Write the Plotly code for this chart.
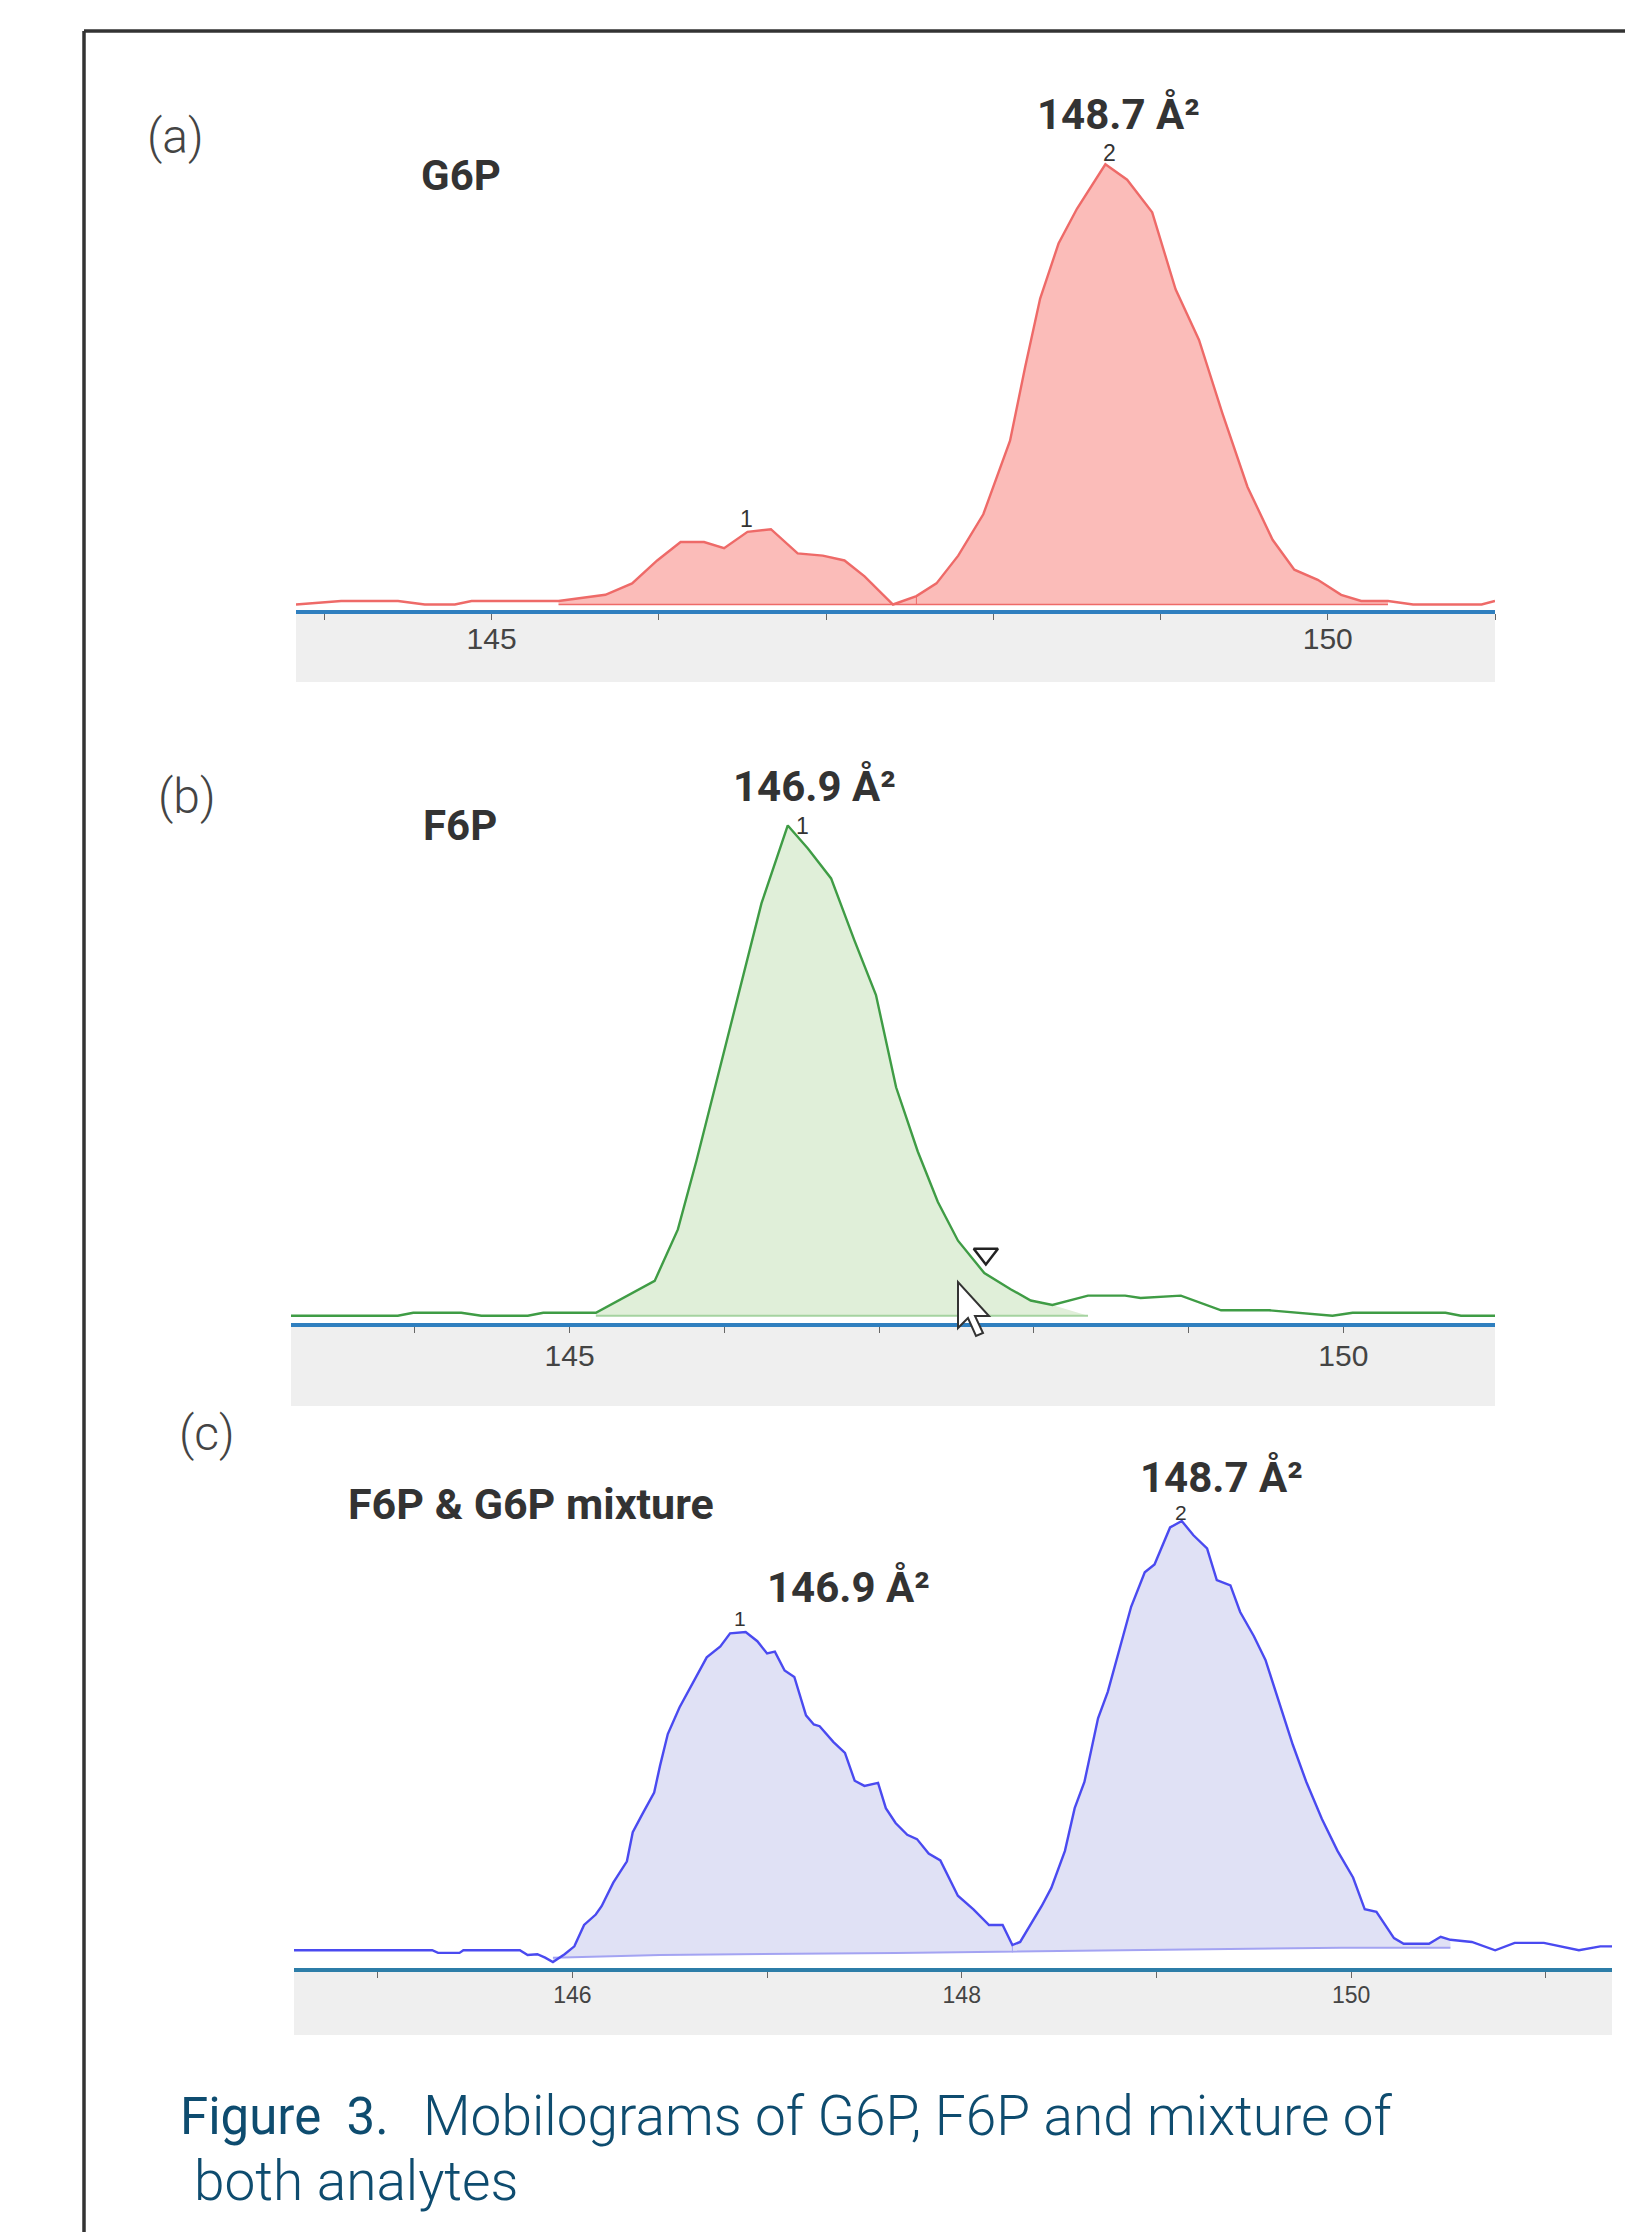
import plotly.graph_objects as go

W, H = 1625, 2232

# Panel (a) G6P
a_x = [143.83,144.10,144.44,144.60,144.78,144.88,145.40,145.68,145.84,145.99,146.13,146.27,146.39,146.53,146.67,146.83,146.98,147.11,147.23,147.40,147.54,147.66,147.79,147.94,148.10,148.19,148.28,148.39,148.50,148.67,148.80,148.95,149.09,149.23,149.37,149.52,149.67,149.80,149.94,150.08,150.20,150.36,150.51,150.92,151.00]
a_y = [0,0.8,0.8,0,0,0.8,0.8,2.2,4.8,10.0,14.2,14.2,12.8,16.5,17.1,11.6,11.1,10.0,6.4,0,1.9,4.8,11.1,20.5,37.2,53.9,69.5,82.0,89.9,100,96.5,89.1,71.6,60.1,43.4,26.7,14.7,7.9,5.6,2.2,0.8,0.8,0,0,0.8]
# Panel (b) F6P
b_x = [143.20,143.89,143.99,144.30,144.43,144.73,144.83,145.17,145.55,145.70,145.82,145.94,146.04,146.14,146.24,146.41,146.54,146.69,146.84,146.98,147.11,147.25,147.38,147.51,147.68,147.85,147.98,148.12,148.35,148.59,148.69,148.95,149.21,149.52,149.93,150.06,150.66,150.76,150.99]
b_y = [0,0,0.6,0.6,0,0,0.6,0.6,7.1,17.6,31.6,46.6,58.8,71.0,84.1,100,95.3,89.2,76.6,65.4,46.6,33.5,23.2,15.3,8.7,5.4,3.1,2.2,4.1,4.1,3.6,4.1,1.1,1.1,0,0.6,0.6,0,0]
# Panel (c) mixture
c_x = [144.57,145.28,145.31,145.42,145.44,145.73,145.77,145.82,145.86,145.90,145.96,146.01,146.06,146.12,146.15,146.21,146.28,146.31,146.36,146.42,146.45,146.49,146.55,146.60,146.65,146.69,146.76,146.81,146.89,146.95,147.00,147.04,147.09,147.14,147.20,147.24,147.27,147.34,147.40,147.45,147.50,147.57,147.61,147.66,147.72,147.77,147.83,147.89,147.98,148.06,148.14,148.21,148.26,148.30,148.41,148.46,148.53,148.58,148.63,148.70,148.75,148.81,148.87,148.94,148.99,149.07,149.13,149.19,149.26,149.31,149.38,149.43,149.50,149.56,149.64,149.70,149.77,149.85,149.93,150.01,150.07,150.13,150.22,150.27,150.40,150.46,150.51,150.62,150.74,150.84,150.99,151.17,151.28,151.34]
c_y = [1.5,1.5,0.9,0.9,1.5,1.5,0.4,0.6,-0.2,-1.2,0.6,2.4,7.3,9.7,11.6,17.0,21.9,28.6,32.8,37.7,43.8,51.1,57.2,61.4,65.7,68.7,71.2,74.2,74.5,72.4,69.6,70.0,65.7,64.2,55.4,53.3,52.9,49.3,46.8,40.4,39.2,39.9,34.1,30.7,28.0,27.0,23.7,22.1,14.0,10.9,7.3,7.3,2.7,3.4,11.6,15.8,24.3,34.1,40.1,54.7,60.8,70.6,80.3,88.2,90.0,98.5,100,96.7,93.7,86.4,85.2,79.1,73.6,68.1,57.2,48.7,40.1,31.6,24.3,18.2,10.9,10.3,4.3,3.0,3.0,4.6,3.9,3.4,1.5,3.2,3.2,1.5,2.4,2.4]
c_base_x = [145.90,146.45,147.66,148.81,149.95,150.51]
c_base_y = [-0.2,0.4,0.9,1.5,2.1,2.1]

a_ticks = [144,145,146,147,148,149,150,151]
b_ticks = [144,145,146,147,148,149,150]
c_ticks = [145,146,147,148,149,150,151]
a_labels = ["","145","","","","","150",""]
b_labels = ["","145","","","","","150"]
c_labels = ["","146","","148","","150",""]

def px(v): return v / W
def py(v): return 1 - v / H

def fill_slice(xs, ys, lo, hi):
    pts = [(x, y) for x, y in zip(xs, ys) if lo <= x <= hi]
    return [p[0] for p in pts], [p[1] for p in pts]

fig = go.Figure()

RED, RED_F = "#ee6a68", "#fbbcb9"
GRN, GRN_F = "#3f9c45", "#e0efd9"
BLU, BLU_F = "#4a4af0", "#e0e1f5"

# (a)
fx, fy = fill_slice(a_x, a_y, 145.40, 150.36)
fig.add_trace(go.Scatter(x=fx, y=fy, xaxis="x", yaxis="y", mode="lines", line=dict(width=0), fill="tozeroy", fillcolor=RED_F, hoverinfo="skip"))
fig.add_trace(go.Scatter(x=[145.40, 150.36], y=[0, 0], xaxis="x", yaxis="y", mode="lines", line=dict(color=RED, width=1.5)))
fig.add_trace(go.Scatter(x=[147.54, 147.54], y=[0, 1.9], xaxis="x", yaxis="y", mode="lines", line=dict(color=RED, width=1)))
fig.add_trace(go.Scatter(x=a_x, y=a_y, xaxis="x", yaxis="y", mode="lines", line=dict(color=RED, width=2.4)))

# (b)
fx, fy = fill_slice(b_x, b_y, 145.17, 148.12)
fx = fx + [148.35]; fy = fy + [0]
fig.add_trace(go.Scatter(x=fx, y=fy, xaxis="x2", yaxis="y2", mode="lines", line=dict(width=0), fill="tozeroy", fillcolor=GRN_F, hoverinfo="skip"))
fig.add_trace(go.Scatter(x=[145.17, 148.35], y=[0, 0], xaxis="x2", yaxis="y2", mode="lines", line=dict(color="#a5d3a0", width=2)))
fig.add_trace(go.Scatter(x=b_x, y=b_y, xaxis="x2", yaxis="y2", mode="lines", line=dict(color=GRN, width=2.4)))
fig.add_trace(go.Scatter(x=[147.69], y=[12.6], xaxis="x2", yaxis="y2", mode="markers",
                         marker=dict(symbol="triangle-down", size=21, color="white", line=dict(color="#222", width=2.5))))

# (c)
fx, fy = fill_slice(c_x, c_y, 145.90, 150.51)
fig.add_trace(go.Scatter(x=fx + c_base_x[::-1], y=fy + c_base_y[::-1], xaxis="x3", yaxis="y3", mode="lines",
                         line=dict(width=0), fill="toself", fillcolor=BLU_F, hoverinfo="skip"))
fig.add_trace(go.Scatter(x=c_base_x, y=c_base_y, xaxis="x3", yaxis="y3", mode="lines", line=dict(color="#a3a3f2", width=2)))
fig.add_trace(go.Scatter(x=[148.26, 148.26], y=[1.0, 2.7], xaxis="x3", yaxis="y3", mode="lines", line=dict(color="#a3a3f2", width=1)))
fig.add_trace(go.Scatter(x=c_x, y=c_y, xaxis="x3", yaxis="y3", mode="lines", line=dict(color=BLU, width=2.4)))

def xax(domain, rng, vals, labels, size, standoff, color):
    return dict(domain=[px(domain[0]), px(domain[1])], range=rng, tickmode="array", tickvals=vals, ticktext=labels,
                ticks="outside", ticklen=6, tickcolor="#666", tickwidth=1, showgrid=False, zeroline=False,
                showline=True, linecolor=color, linewidth=4, ticklabelstandoff=standoff,
                tickfont=dict(family="Liberation Sans", size=size, color="#444"))

def yax(top, bottom, rng, anchor):
    return dict(domain=[py(bottom), py(top)], range=rng, visible=False, anchor=anchor, fixedrange=True)

def note(text, x, y, size, weight="normal", anchor="center", color="#333", family="Roboto"):
    return dict(text=text, xref="paper", yref="paper", x=px(x), y=py(y), xanchor=anchor, yanchor="middle",
                showarrow=False, font=dict(family=family, size=size, color=color, weight=weight))

def rect(x0, y0, x1, y1):
    return dict(type="rect", xref="paper", yref="paper", x0=px(x0), x1=px(x1), y0=py(y1), y1=py(y0),
                fillcolor="#efefef", line=dict(width=0), layer="below")

cursor = [(958,1282),(958,1328),(968,1318),(976,1336),(983,1333),(975,1316),(989,1316)]
cursor_path = "M " + " L ".join(f"{px(a):.5f},{py(b):.5f}" for a, b in cursor) + " Z"

shapes = [
    rect(296, 610, 1495, 682), rect(291, 1323, 1495, 1406), rect(294, 1968, 1612, 2035),
    dict(type="line", xref="paper", yref="paper", x0=px(84), x1=1, y0=py(31), y1=py(31), line=dict(color="#333", width=3.5)),
    dict(type="line", xref="paper", yref="paper", x0=px(84), x1=px(84), y0=py(31), y1=0, line=dict(color="#333", width=3.5)),
    dict(type="path", xref="paper", yref="paper", path=cursor_path, fillcolor="white", line=dict(color="#333", width=2), layer="above"),
]

CAP = "#0e4c6f"
annotations = [
    note("(a)", 175, 137, 48, 300, color="#444"),
    note("(b)", 187, 797, 48, 300, color="#444"),
    note("(c)", 207, 1433, 48, 300, color="#444"),
    note("G6P", 461, 176, 42, "bold"),
    note("F6P", 460, 825, 42, "bold"),
    note("F6P &amp; G6P mixture", 531, 1504, 43, "bold"),
    note("148.7 Å²", 1118, 114, 42, "bold"),
    note("146.9 Å²", 815, 786, 42, "bold"),
    note("148.7 Å²", 1221, 1477, 42, "bold"),
    note("146.9 Å²", 848, 1587, 42, "bold"),
    note("2", 1109, 153, 23, family="Liberation Sans"),
    note("1", 746, 519, 23, family="Liberation Sans"),
    note("1", 802, 826, 23, family="Liberation Sans"),
    note("1", 740, 1619, 21, family="Liberation Sans"),
    note("2", 1181, 1512, 21, family="Liberation Sans"),
    note("Figure\u00a0\u00a03.", 178, 2116, 51, "normal", "left", CAP),
    note("Mobilograms of G6P, F6P and mixture of", 421, 2116, 55, 300, "left", CAP),
    note("both analytes", 192, 2181, 55, 300, "left", CAP),
]

fig.update_layout(
    width=W, height=H, margin=dict(l=0, r=0, t=0, b=0), showlegend=False,
    paper_bgcolor="white", plot_bgcolor="rgba(0,0,0,0)",
    xaxis=xax((296, 1495), [143.83, 151.0], a_ticks, a_labels, 30, -7, "#2f7fbf"),
    yaxis=yax(142, 610, [-1.25, 105.07], "x"),
    xaxis2=xax((291, 1495), [143.2, 150.98], b_ticks, b_labels, 30, -3, "#2f7fbf"),
    yaxis2=yax(800, 1323, [-1.49, 105.2], "x2"),
    xaxis3=xax((294, 1612), [144.57, 151.34], c_ticks, c_labels, 23, -3, "#2c7da8"),
    yaxis3=yax(1500, 1968, [-2.57, 104.8], "x3"),
    shapes=shapes, annotations=annotations,
)
fig.layout.xaxis.anchor = "y"
fig.layout.xaxis2.anchor = "y2"
fig.layout.xaxis3.anchor = "y3"

fig.write_html("out.html", config=dict(displayModeBar=False), post_script="document.body.style.margin='0';document.body.style.overflow='hidden';")
